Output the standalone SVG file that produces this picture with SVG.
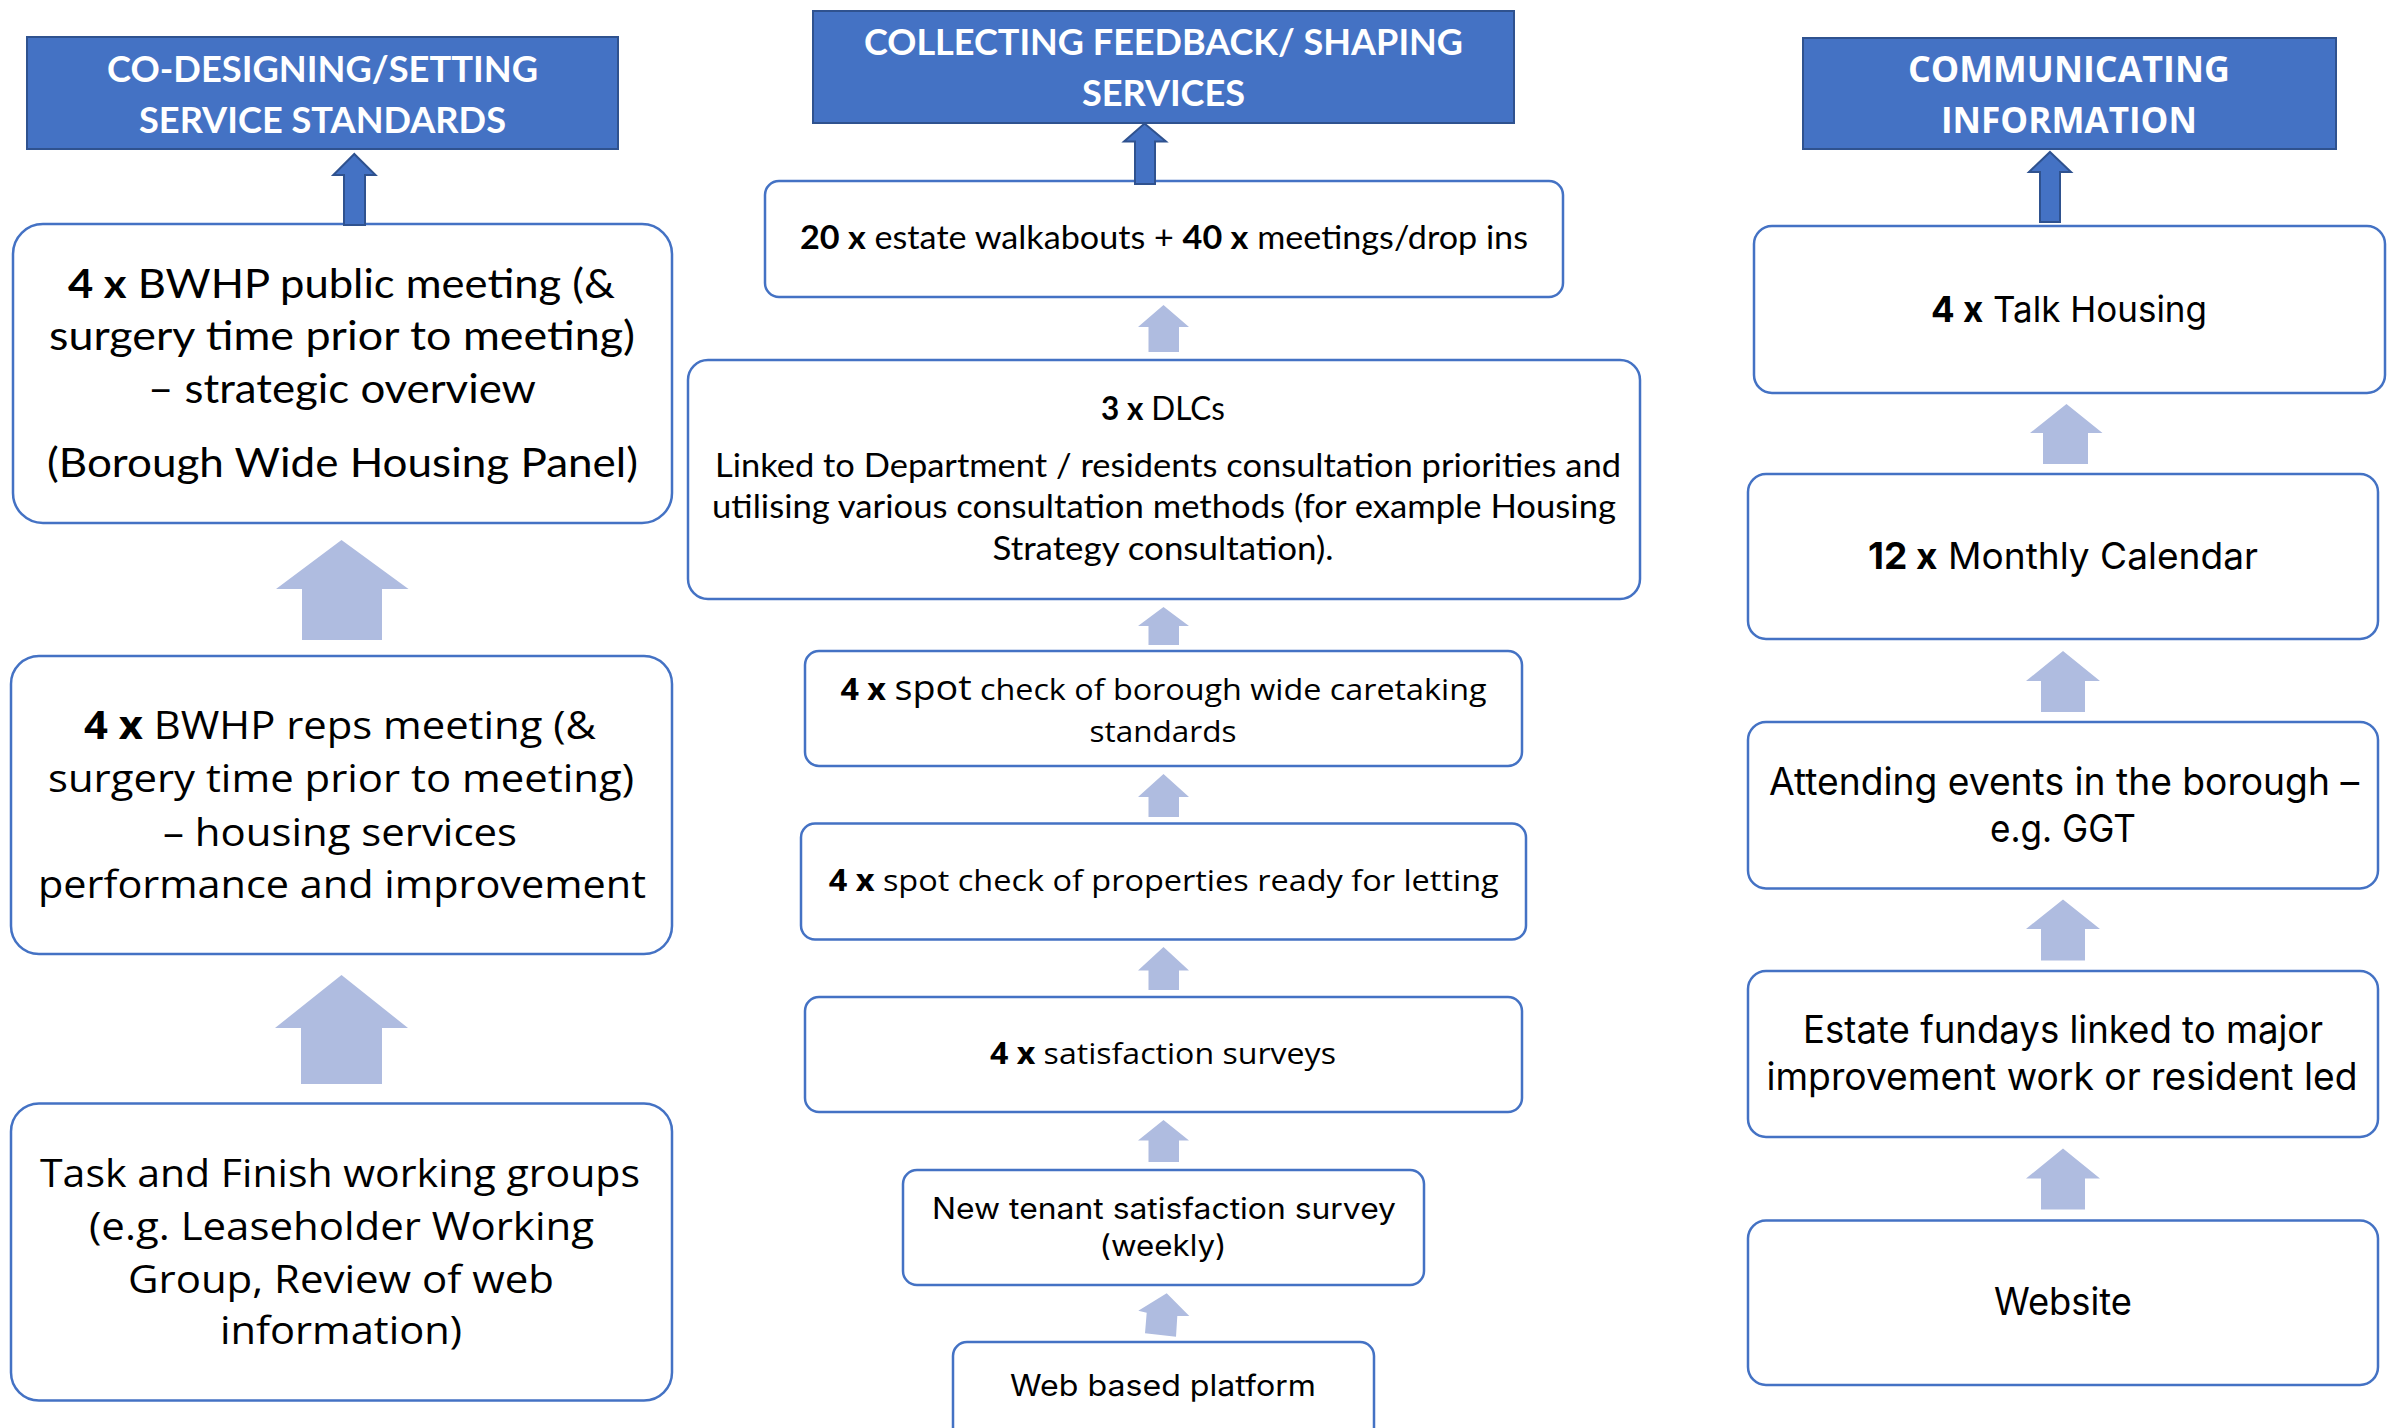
<svg xmlns="http://www.w3.org/2000/svg" width="2399" height="1428" viewBox="0 0 2399 1428">
  <style>
    .bg { fill: #ffffff; }
    .head { fill: #4472C4; stroke: #2F528F; stroke-width: 2; }
    .box { fill: #ffffff; stroke: #4472C4; stroke-width: 2.5; }
    .up-dark { fill: #4472C4; stroke: #2F528F; stroke-width: 2; stroke-linejoin: miter; }
    .up-light { fill: #AFBCE0; stroke: none; }
    .ht { font-family: Lato, "Liberation Sans", sans-serif; font-weight: 700; fill: #ffffff; text-anchor: middle; }
    .ht2 { font-family: "Open Sans", "Noto Sans", sans-serif; font-weight: 700; fill: #ffffff; text-anchor: middle; }
    .cal { font-family: Lato, "Liberation Sans", sans-serif; fill: #000000; text-anchor: middle; }
    .seg { font-family: "Open Sans", "Noto Sans", sans-serif; fill: #000000; text-anchor: middle; }
    .ui { font-family: Inter, "Open Sans", sans-serif; fill: #000000; text-anchor: middle; }
    .b { font-weight: 700; }
  </style>

  <rect class="bg" x="0" y="0" width="2399" height="1428"/>

  <!-- Column headers -->
  <g id="header-codesign">
    <rect class="head" x="27" y="37" width="591" height="112"/>
    <text class="ht" font-size="37" x="322.5" y="82" textLength="431" lengthAdjust="spacingAndGlyphs">CO-DESIGNING/SETTING</text>
    <text class="ht" font-size="37" x="322.5" y="133" textLength="367" lengthAdjust="spacingAndGlyphs">SERVICE STANDARDS</text>
  </g>
  <g id="header-feedback">
    <rect class="head" x="813" y="11" width="701" height="112"/>
    <text class="ht" font-size="36" x="1163.5" y="55" textLength="599" lengthAdjust="spacingAndGlyphs">COLLECTING FEEDBACK/ SHAPING</text>
    <text class="ht" font-size="36" x="1163.5" y="106" textLength="163" lengthAdjust="spacingAndGlyphs">SERVICES</text>
  </g>
  <g id="header-communicating">
    <rect class="head" x="1803" y="38" width="533" height="111"/>
    <text class="ht2" font-size="36" x="2069" y="82" textLength="322" lengthAdjust="spacingAndGlyphs">COMMUNICATING</text>
    <text class="ht2" font-size="36" x="2069" y="133" textLength="256" lengthAdjust="spacingAndGlyphs">INFORMATION</text>
  </g>

  <!-- Left column -->
  <g id="bwhp-public">
    <rect class="box" x="13" y="224" width="659" height="299" rx="30"/>
    <text class="cal" font-size="40" x="341.5" y="298" textLength="547" lengthAdjust="spacingAndGlyphs"><tspan class="b">4 x</tspan> BWHP public meeting (&amp;</text>
    <text class="cal" font-size="40" x="342" y="350" textLength="586" lengthAdjust="spacingAndGlyphs">surgery time prior to meeting)</text>
    <text class="cal" font-size="40" x="342" y="403" textLength="388" lengthAdjust="spacingAndGlyphs">– strategic overview</text>
    <text class="cal" font-size="40" x="342.5" y="477" textLength="591" lengthAdjust="spacingAndGlyphs">(Borough Wide Housing Panel)</text>
  </g>
  <g id="bwhp-reps">
    <rect class="box" x="11" y="656" width="661" height="298" rx="28"/>
    <text class="seg" font-size="38.5" x="340" y="739" textLength="512" lengthAdjust="spacingAndGlyphs"><tspan class="b">4 x</tspan> BWHP reps meeting (&amp;</text>
    <text class="seg" font-size="38.5" x="341" y="792" textLength="586" lengthAdjust="spacingAndGlyphs">surgery time prior to meeting)</text>
    <text class="seg" font-size="38.5" x="340" y="846" textLength="354" lengthAdjust="spacingAndGlyphs">– housing services</text>
    <text class="seg" font-size="38.5" x="342" y="898" textLength="608" lengthAdjust="spacingAndGlyphs">performance and improvement</text>
  </g>
  <g id="task-finish">
    <rect class="box" x="11" y="1103.5" width="661" height="297" rx="28"/>
    <text class="seg" font-size="38" x="340" y="1187" textLength="600" lengthAdjust="spacingAndGlyphs">Task and Finish working groups</text>
    <text class="seg" font-size="38" x="341.5" y="1239.5" textLength="505" lengthAdjust="spacingAndGlyphs">(e.g. Leaseholder Working</text>
    <text class="seg" font-size="38" x="341" y="1293" textLength="426" lengthAdjust="spacingAndGlyphs">Group, Review of web</text>
    <text class="seg" font-size="38" x="341" y="1344" textLength="242" lengthAdjust="spacingAndGlyphs">information)</text>
  </g>

  <!-- Middle column -->
  <g id="walkabouts">
    <rect class="box" x="765" y="181" width="798" height="116" rx="14"/>
    <text class="cal" font-size="32" x="1164" y="249" textLength="728" lengthAdjust="spacingAndGlyphs"><tspan class="b">20 x</tspan> estate walkabouts + <tspan class="b">40 x</tspan> meetings/drop ins</text>
  </g>
  <g id="dlcs">
    <rect class="box" x="688" y="360" width="952" height="239" rx="20"/>
    <text class="cal" font-size="32" x="1163" y="420" textLength="124" lengthAdjust="spacingAndGlyphs"><tspan class="b">3 x</tspan> DLCs</text>
    <text class="cal" font-size="32" x="1168" y="476.5" textLength="906" lengthAdjust="spacingAndGlyphs">Linked to Department / residents consultation priorities and</text>
    <text class="cal" font-size="32" x="1164" y="518" textLength="904" lengthAdjust="spacingAndGlyphs">utilising various consultation methods (for example Housing</text>
    <text class="cal" font-size="32" x="1163" y="559.5" textLength="341" lengthAdjust="spacingAndGlyphs">Strategy consultation).</text>
  </g>
  <g id="spot-caretaking">
    <rect class="box" x="805" y="651" width="717" height="115" rx="14"/>
    <text class="seg" font-size="30" x="1163.5" y="700" textLength="646" lengthAdjust="spacingAndGlyphs"><tspan class="b">4 x</tspan> <tspan font-size="35">spot</tspan> check of borough wide caretaking</text>
    <text class="seg" font-size="30" x="1163" y="742" textLength="147" lengthAdjust="spacingAndGlyphs">standards</text>
  </g>
  <g id="spot-letting">
    <rect class="box" x="801" y="823.5" width="725" height="116" rx="14"/>
    <text class="seg" font-size="30" x="1163.7" y="890.5" textLength="670" lengthAdjust="spacingAndGlyphs"><tspan class="b">4 x</tspan> spot check of properties ready for letting</text>
  </g>
  <g id="satisfaction">
    <rect class="box" x="805" y="997" width="717" height="115" rx="14"/>
    <text class="seg" font-size="30" x="1163" y="1064" textLength="346" lengthAdjust="spacingAndGlyphs"><tspan class="b">4 x</tspan> satisfaction surveys</text>
  </g>
  <g id="new-tenant">
    <rect class="box" x="903" y="1170" width="521" height="115" rx="14"/>
    <text class="ui" font-size="29.5" x="1164" y="1219" textLength="464" lengthAdjust="spacingAndGlyphs">New tenant satisfaction survey</text>
    <text class="ui" font-size="29.5" x="1163" y="1255.5" textLength="127" lengthAdjust="spacingAndGlyphs">(weekly)</text>
  </g>
  <g id="web-platform">
    <rect class="box" x="953" y="1342" width="421" height="110" rx="14"/>
    <text class="ui" font-size="29.5" x="1163" y="1395.5" textLength="306" lengthAdjust="spacingAndGlyphs">Web based platform</text>
  </g>

  <!-- Right column -->
  <g id="talk-housing">
    <rect class="box" x="1754" y="226" width="631" height="167" rx="18"/>
    <text class="ui" font-size="36" x="2069" y="321.5" textLength="276" lengthAdjust="spacingAndGlyphs"><tspan class="b">4 x</tspan> Talk Housing</text>
  </g>
  <g id="monthly-calendar">
    <rect class="box" x="1748" y="474" width="630" height="165" rx="18"/>
    <text class="ui" font-size="37" x="2063" y="569" textLength="390" lengthAdjust="spacingAndGlyphs"><tspan class="b">12 x</tspan> Monthly Calendar</text>
  </g>
  <g id="events">
    <rect class="box" x="1748" y="722" width="630" height="166.5" rx="18"/>
    <text class="ui" font-size="37.5" x="2064" y="794.5" textLength="590" lengthAdjust="spacingAndGlyphs">Attending events in the borough –</text>
    <text class="ui" font-size="37.5" x="2063" y="841.5" textLength="146" lengthAdjust="spacingAndGlyphs">e.g. GGT</text>
  </g>
  <g id="fundays">
    <rect class="box" x="1748" y="971" width="630" height="166" rx="18"/>
    <text class="ui" font-size="37.5" x="2063" y="1042.5" textLength="520" lengthAdjust="spacingAndGlyphs">Estate fundays linked to major</text>
    <text class="ui" font-size="37.5" x="2062" y="1089.5" textLength="591" lengthAdjust="spacingAndGlyphs">improvement work or resident led</text>
  </g>
  <g id="website">
    <rect class="box" x="1748" y="1220.5" width="630" height="164.5" rx="18"/>
    <text class="ui" font-size="37.5" x="2063" y="1314.5" textLength="138" lengthAdjust="spacingAndGlyphs">Website</text>
  </g>

  <!-- Block arrows -->
  <g id="connectors">
    <!-- into the headers -->
    <polygon class="up-dark" points="354.3,154 375.5,175 365,175 365,225 344,225 344,175 333.3,175"/>
    <polygon class="up-dark" points="1144.5,123.5 1166,141.5 1155,141.5 1155,184 1135,184 1135,141.5 1124,141.5"/>
    <polygon class="up-dark" points="2050,152 2071,172 2060,172 2060,222 2040,222 2040,172 2029,172"/>

    <!-- left column -->
    <polygon class="up-light" points="341.5,540 408.5,589 382,589 382,640 302,640 302,589 276,589"/>
    <polygon class="up-light" points="341.5,975 408,1028 382,1028 382,1084 301,1084 301,1028 275,1028"/>

    <!-- middle column -->
    <polygon class="up-light" points="1163.5,305 1189,327 1179,327 1179,352 1148.5,352 1148.5,327 1138,327"/>
    <polygon class="up-light" points="1163.5,607 1189,626 1179,626 1179,645 1148.5,645 1148.5,626 1138,626"/>
    <polygon class="up-light" points="1163.5,774 1189,797 1179,797 1179,817 1148.5,817 1148.5,797 1138,797"/>
    <polygon class="up-light" points="1163.5,947 1189,970.5 1179,970.5 1179,990 1148.5,990 1148.5,970.5 1138,970.5"/>
    <polygon class="up-light" points="1163.5,1120 1189,1140.5 1179,1140.5 1179,1162 1148.5,1162 1148.5,1140.5 1138,1140.5"/>
    <polygon class="up-light" points="1166.7,1293.3 1189.3,1316 1177.3,1316 1176,1336.7 1145,1333.3 1146.7,1312.7 1138.3,1310.7"/>

    <!-- right column -->
    <polygon class="up-light" points="2066.5,404 2102.5,433 2088,433 2088,464 2043,464 2043,433 2030,433"/>
    <polygon class="up-light" points="2063,651 2100,681 2085,681 2085,712 2041,712 2041,681 2026,681"/>
    <polygon class="up-light" points="2063,899.5 2100,929 2085,929 2085,960.5 2041,960.5 2041,929 2026,929"/>
    <polygon class="up-light" points="2063,1148.5 2100,1178.5 2085,1178.5 2085,1209.5 2041,1209.5 2041,1178.5 2026,1178.5"/>
  </g>
</svg>
